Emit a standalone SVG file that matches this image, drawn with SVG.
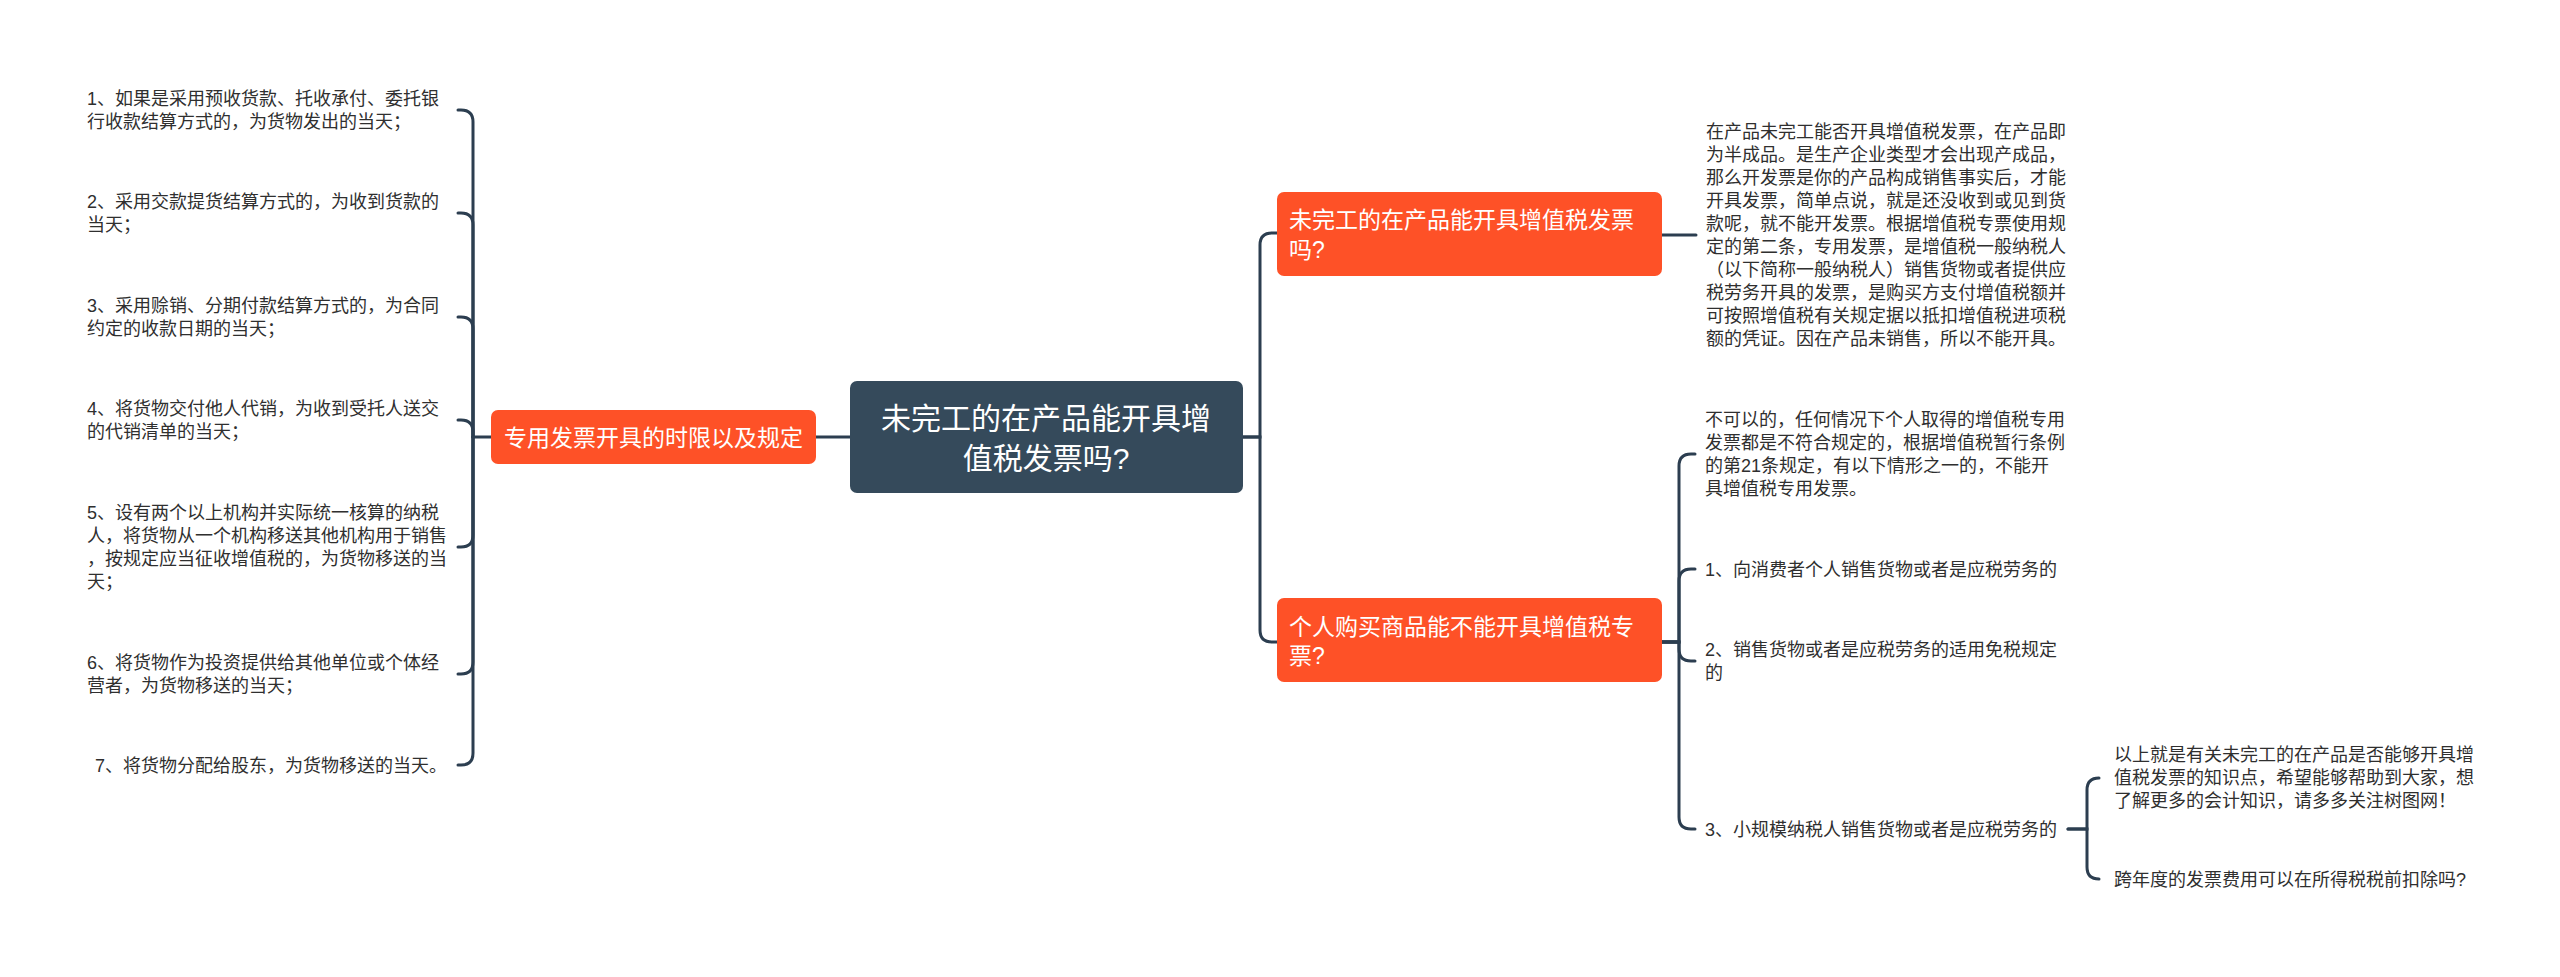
<svg xmlns="http://www.w3.org/2000/svg" width="2560" height="977" viewBox="0 0 2560 977">
<style>
.conn{fill:none;stroke:#2C3E50;stroke-width:3;stroke-linecap:round}
.root{fill:#354A5B}
.main{fill:#FE5127}
.t{font-family:"Liberation Sans","Noto Sans CJK SC",sans-serif;fill:#2f2f2f;font-size:18px}
.w{font-family:"Liberation Sans","Noto Sans CJK SC",sans-serif;fill:#ffffff}
</style>
<rect width="2560" height="977" fill="#ffffff"/>
<g id="connectors">
  <path class="conn" d="M850,437 H816"/>
  <path class="conn" d="M491,437 H473"/>
  <path class="conn" d="M473,437 V122 Q473,110 461,110 H458"/>
  <path class="conn" d="M473,437 V225 Q473,213 461,213 H458"/>
  <path class="conn" d="M473,437 V329 Q473,317 461,317 H458"/>
  <path class="conn" d="M473,437 V432 Q473,420 461,420 H458"/>
  <path class="conn" d="M473,437 V535 Q473,547 461,547 H458"/>
  <path class="conn" d="M473,437 V662 Q473,674 461,674 H458"/>
  <path class="conn" d="M473,437 V753 Q473,765 461,765 H458"/>
  <path class="conn" d="M1243,437 H1260 V245 Q1260,233 1272,233 H1277"/>
  <path class="conn" d="M1243,437 H1260 V630 Q1260,642 1272,642 H1277"/>
  <path class="conn" d="M1662,235 H1696"/>
  <path class="conn" d="M1662,642 H1679 V466 Q1679,454 1691,454 H1695"/>
  <path class="conn" d="M1662,642 H1679 V581 Q1679,569 1691,569 H1695"/>
  <path class="conn" d="M1662,642 H1679 V649 Q1679,661 1691,661 H1695"/>
  <path class="conn" d="M1662,642 H1679 V817 Q1679,829 1691,829 H1695"/>
  <path class="conn" d="M2068,829 H2087 V790 Q2087,778 2099,778"/>
  <path class="conn" d="M2068,829 H2087 V867 Q2087,879 2099,879"/>
</g>
<g id="root">
  <rect class="root" x="850" y="381" width="393" height="112" rx="7"/>
  <text class="w" font-size="30" text-anchor="middle"><tspan x="1046" y="429">未完工的在产品能开具增</tspan><tspan x="1046" y="469">值税发票吗?</tspan></text>
</g>
<g id="node-left">
  <rect class="main" x="491" y="410" width="325" height="54" rx="7"/>
  <text class="w" font-size="23" x="653.5" y="445.5" text-anchor="middle">专用发票开具的时限以及规定</text>
</g>
<g id="left-1"><text class="t"><tspan x="87" y="105">1、如果是采用预收货款、托收承付、委托银</tspan><tspan x="87" y="128">行收款结算方式的，为货物发出的当天；</tspan></text></g>
<g id="left-2"><text class="t"><tspan x="87" y="208">2、采用交款提货结算方式的，为收到货款的</tspan><tspan x="87" y="231">当天；</tspan></text></g>
<g id="left-3"><text class="t"><tspan x="87" y="312">3、采用赊销、分期付款结算方式的，为合同</tspan><tspan x="87" y="335">约定的收款日期的当天；</tspan></text></g>
<g id="left-4"><text class="t"><tspan x="87" y="415">4、将货物交付他人代销，为收到受托人送交</tspan><tspan x="87" y="438">的代销清单的当天；</tspan></text></g>
<g id="left-5"><text class="t"><tspan x="87" y="519">5、设有两个以上机构并实际统一核算的纳税</tspan><tspan x="87" y="542">人，将货物从一个机构移送其他机构用于销售</tspan><tspan x="87" y="565">，按规定应当征收增值税的，为货物移送的当</tspan><tspan x="87" y="588">天；</tspan></text></g>
<g id="left-6"><text class="t"><tspan x="87" y="669">6、将货物作为投资提供给其他单位或个体经</tspan><tspan x="87" y="692">营者，为货物移送的当天；</tspan></text></g>
<g id="left-7"><text class="t" x="95" y="772">7、将货物分配给股东，为货物移送的当天。</text></g>
<g id="node-right-1">
  <rect class="main" x="1277" y="192" width="385" height="84" rx="7"/>
  <text class="w" font-size="23"><tspan x="1289" y="228">未完工的在产品能开具增值税发票</tspan><tspan x="1289" y="258">吗?</tspan></text>
</g>
<g id="right-1-text"><text class="t">
  <tspan x="1706" y="138">在产品未完工能否开具增值税发票，在产品即</tspan>
  <tspan x="1706" y="161">为半成品。是生产企业类型才会出现产成品，</tspan>
  <tspan x="1706" y="184">那么开发票是你的产品构成销售事实后，才能</tspan>
  <tspan x="1706" y="207">开具发票，简单点说，就是还没收到或见到货</tspan>
  <tspan x="1706" y="230">款呢，就不能开发票。根据增值税专票使用规</tspan>
  <tspan x="1706" y="253">定的第二条，专用发票，是增值税一般纳税人</tspan>
  <tspan x="1706" y="276">（以下简称一般纳税人）销售货物或者提供应</tspan>
  <tspan x="1706" y="299">税劳务开具的发票，是购买方支付增值税额并</tspan>
  <tspan x="1706" y="322">可按照增值税有关规定据以抵扣增值税进项税</tspan>
  <tspan x="1706" y="345">额的凭证。因在产品未销售，所以不能开具。</tspan>
</text></g>
<g id="node-right-2">
  <rect class="main" x="1277" y="598" width="385" height="84" rx="7"/>
  <text class="w" font-size="23"><tspan x="1289" y="635">个人购买商品能不能开具增值税专</tspan><tspan x="1289" y="664">票?</tspan></text>
</g>
<g id="right-2-a"><text class="t"><tspan x="1705" y="426">不可以的，任何情况下个人取得的增值税专用</tspan><tspan x="1705" y="449">发票都是不符合规定的，根据增值税暂行条例</tspan><tspan x="1705" y="472">的第21条规定，有以下情形之一的，不能开</tspan><tspan x="1705" y="495">具增值税专用发票。</tspan></text></g>
<g id="right-2-b"><text class="t" x="1705" y="575.5">1、向消费者个人销售货物或者是应税劳务的</text></g>
<g id="right-2-c"><text class="t"><tspan x="1705" y="656">2、销售货物或者是应税劳务的适用免税规定</tspan><tspan x="1705" y="679">的</tspan></text></g>
<g id="right-2-d"><text class="t" x="1705" y="835.5">3、小规模纳税人销售货物或者是应税劳务的</text></g>
<g id="right-2-d-1"><text class="t"><tspan x="2114" y="761">以上就是有关未完工的在产品是否能够开具增</tspan><tspan x="2114" y="784">值税发票的知识点，希望能够帮助到大家，想</tspan><tspan x="2114" y="807">了解更多的会计知识，请多多关注树图网！</tspan></text></g>
<g id="right-2-d-2"><text class="t" x="2114" y="886">跨年度的发票费用可以在所得税税前扣除吗?</text></g>
</svg>
